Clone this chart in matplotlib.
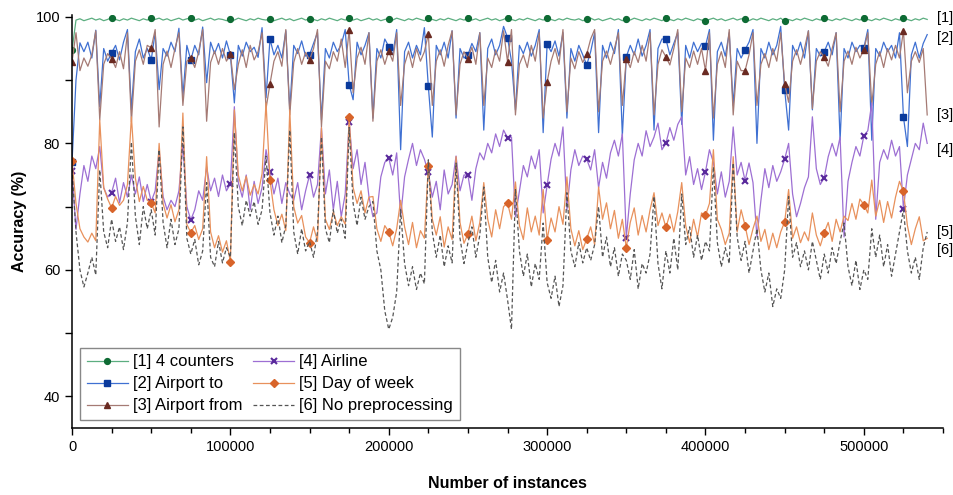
import matplotlib
matplotlib.use("Agg")
import matplotlib.pyplot as plt
import numpy as np

plt.rcParams['font.family'] = ['Liberation Sans', 'DejaVu Sans']

# one sample every 2500 instances, a marker every 25000
step = 2500

four_counters = [
    94.7, 99.5, 99.7, 99.4, 99.6, 99.8, 99.5, 99.7, 99.4, 99.6,
    99.9, 99.6, 99.4, 99.7, 99.5, 99.8, 99.6, 99.4, 99.7, 99.5,
    99.9, 99.6, 99.8, 99.5, 99.7, 99.4, 99.6, 99.8, 99.5, 99.7,
    99.8, 99.5, 99.7, 99.4, 99.6, 99.8, 99.5, 99.7, 99.6, 99.4,
    99.7, 99.5, 99.8, 99.6, 99.4, 99.7, 99.5, 99.8, 99.6, 99.5,
    99.7, 99.4, 99.6, 99.8, 99.5, 99.7, 99.4, 99.6, 99.8, 99.5,
    99.7, 99.6, 99.4, 99.7, 99.5, 99.8, 99.6, 99.4, 99.7, 99.5,
    99.8, 99.5, 99.7, 99.4, 99.6, 99.8, 99.5, 99.7, 99.4, 99.6,
    99.7, 99.5, 99.8, 99.6, 99.4, 99.7, 99.5, 99.8, 99.6, 99.4,
    99.8, 99.6, 99.4, 99.7, 99.5, 99.8, 99.6, 99.4, 99.7, 99.5,
    99.8, 99.5, 99.7, 99.4, 99.6, 99.8, 99.5, 99.7, 99.4, 99.6,
    99.9, 99.6, 99.4, 99.7, 99.5, 99.8, 99.6, 99.4, 99.7, 99.5,
    99.8, 99.6, 99.4, 99.7, 99.5, 99.8, 99.6, 99.5, 99.7, 99.4,
    99.6, 99.8, 99.5, 99.7, 99.4, 99.6, 99.8, 99.5, 99.7, 99.4,
    99.7, 99.5, 99.8, 99.6, 99.4, 99.7, 99.5, 99.8, 99.6, 99.4,
    99.8, 99.6, 99.4, 99.7, 99.5, 99.8, 99.6, 99.4, 99.7, 99.5,
    99.4, 99.6, 99.8, 99.5, 99.7, 99.4, 99.6, 99.8, 99.5, 99.7,
    99.6, 99.4, 99.7, 99.5, 99.8, 99.6, 99.4, 99.7, 99.5, 99.8,
    99.3, 99.6, 99.4, 99.7, 99.5, 99.8, 99.6, 99.4, 99.7, 99.5,
    99.9, 99.6, 99.4, 99.7, 99.5, 99.8, 99.6, 99.4, 99.7, 99.5,
    99.9, 99.6, 99.4, 99.7, 99.5, 99.8, 99.6, 99.4, 99.7, 99.5,
    99.9, 99.6, 99.4, 99.7, 99.5, 99.8, 99.6,
]

airport_to = [
    77.0, 90.0, 95.9, 94.5, 96.0, 93.5, 97.9, 85.8, 95.0, 93.0,
    94.3, 95.5, 93.2, 96.0, 98.0, 85.3, 94.5, 96.5, 93.5, 95.0,
    93.2, 97.5, 88.5, 95.0, 93.8, 96.0, 94.5, 98.2, 87.4, 95.5,
    93.2, 95.5, 94.0, 98.4, 89.6, 96.0, 94.2, 95.8, 93.5, 96.2,
    94.0, 86.4, 95.5, 93.8, 96.0, 94.5, 95.2, 93.6, 98.3, 87.2,
    96.5, 94.0, 95.5, 93.5, 97.8, 85.3, 95.5, 94.2, 96.2, 93.8,
    94.0, 95.8, 97.5, 83.7, 95.0, 93.5, 96.0, 94.5, 95.6, 98.0,
    89.3, 86.9, 96.0, 94.0, 95.5, 97.5, 84.0, 95.0, 93.5, 96.5,
    95.3, 94.0, 98.0, 79.0, 94.5, 96.0, 93.5, 95.5, 94.0, 98.3,
    89.0, 81.0, 95.5, 94.0, 96.0, 93.5, 97.8, 84.0, 95.0, 93.5,
    94.0, 95.8, 94.5, 97.5, 82.1, 95.0, 96.5, 94.0, 95.5, 98.5,
    96.7, 93.0, 85.3, 95.5, 94.2, 96.0, 93.8, 95.5, 98.0, 81.7,
    95.7, 94.5, 96.2, 93.8, 97.5, 84.0, 95.0, 93.0, 95.5, 94.0,
    92.4, 94.5, 97.5, 81.7, 95.5, 93.5, 96.0, 94.2, 98.0, 81.2,
    93.7, 95.5, 94.0, 96.5, 93.8, 95.5, 98.0, 82.1, 95.0, 96.5,
    96.5, 94.0, 95.8, 97.5, 83.0, 95.5, 93.5, 96.0, 94.5, 95.8,
    95.4, 98.0, 80.5, 94.5, 96.0, 93.8, 97.5, 86.0, 95.0, 93.5,
    94.8, 96.0, 98.0, 80.0, 95.0, 93.5, 96.0, 94.0, 95.5, 98.5,
    88.5, 82.1, 95.5, 94.0, 96.0, 93.5, 97.8, 85.3, 95.0, 93.8,
    94.5, 96.0, 94.0, 97.5, 80.5, 95.0, 93.5, 96.0, 94.5, 95.5,
    95.1, 98.0, 80.5, 95.0, 93.8, 96.0, 94.5, 95.5, 93.5, 97.5,
    84.2, 79.5, 94.0, 96.0, 93.5, 95.8, 97.2,
]

airport_from = [
    92.9, 97.5, 91.5, 93.5, 92.2, 94.0, 97.8, 83.7, 92.5, 94.2,
    93.4, 92.0, 94.5, 91.8, 97.5, 83.4, 93.0, 94.8, 92.5, 95.5,
    95.1, 98.0, 82.6, 92.5, 94.6, 92.0, 95.0, 97.5, 86.0, 93.0,
    93.5, 92.0, 94.5, 98.0, 83.5, 92.8, 94.6, 92.5, 95.0, 93.0,
    94.1, 88.5, 92.5, 94.8, 92.0, 95.5, 93.2, 94.5, 97.5, 85.5,
    89.4, 93.0, 94.5, 92.2, 98.0, 84.5, 92.8, 95.0, 92.5, 94.4,
    93.2, 95.0, 98.0, 82.6, 93.0, 91.8, 94.5, 93.0, 96.5, 92.0,
    97.9, 88.0, 93.5, 95.2, 92.5, 97.5, 83.5, 93.0, 94.8, 92.5,
    94.6, 93.0, 97.5, 86.0, 92.5, 94.6, 92.0, 95.0, 93.0, 94.5,
    97.3, 86.0, 93.0, 94.8, 92.2, 95.5, 97.8, 84.5, 92.5, 94.5,
    93.4, 95.2, 92.5, 97.5, 86.0, 93.5, 92.0, 94.8, 93.0, 97.8,
    92.9, 98.0, 84.5, 92.5, 94.0, 92.0, 95.5, 93.0, 97.5, 84.0,
    89.7, 93.0, 95.0, 92.5, 98.0, 85.0, 93.5, 91.8, 94.5, 92.8,
    94.1, 96.5, 98.0, 85.0, 93.0, 94.6, 92.5, 95.0, 97.5, 86.0,
    93.4, 92.0, 94.5, 92.8, 95.5, 93.0, 97.5, 84.5, 92.5, 94.8,
    93.7, 92.4, 95.0, 98.0, 85.0, 93.5, 92.0, 94.6, 92.5, 95.0,
    91.5, 97.5, 84.0, 92.5, 94.5, 92.0, 98.0, 84.5, 93.0, 91.5,
    91.5, 94.0, 97.5, 86.0, 92.5, 94.2, 92.0, 95.0, 93.0, 97.5,
    89.4, 86.5, 93.0, 94.8, 92.5, 95.0, 97.8, 85.5, 93.0, 94.5,
    93.6, 92.2, 95.0, 97.5, 85.0, 93.0, 94.6, 92.5, 95.2, 93.5,
    94.8, 97.5, 86.0, 92.5, 94.5, 92.0, 95.0, 93.2, 95.5, 93.5,
    97.8, 88.0, 93.0, 94.5, 92.8, 95.0, 84.5,
]

airline = [
    75.6, 66.4, 72.0, 76.5, 74.0, 78.0, 76.0, 79.5, 73.0, 71.5,
    72.2, 74.5, 70.6, 73.8, 71.5, 75.0, 72.0, 74.7, 70.8, 73.5,
    70.8, 72.5, 79.0, 71.6, 69.5, 71.0, 70.0, 72.5, 80.0, 70.0,
    67.9, 69.5, 72.5, 71.0, 76.3, 72.5, 74.5, 71.6, 75.0, 72.5,
    73.6, 85.8, 73.8, 71.5, 75.0, 69.5, 74.0, 70.5, 73.0, 79.0,
    75.5, 72.0, 74.5, 70.5, 73.8, 72.0, 71.0, 73.8, 69.5, 72.5,
    75.0, 71.5, 73.5, 82.5, 72.0, 75.8, 69.5, 74.0, 68.4, 72.0,
    83.4, 76.0, 79.0, 73.5, 77.0, 71.6, 68.4, 69.0, 74.7, 77.0,
    77.7, 75.0, 78.5, 68.4, 74.7, 77.5, 80.0, 76.5, 79.0, 77.5,
    75.4, 71.5, 74.0, 69.5, 75.8, 72.0, 73.5, 78.0, 72.5, 75.0,
    75.0, 71.0, 76.0, 78.5, 77.4, 80.0, 78.5, 81.5, 79.5, 82.1,
    80.9, 81.0, 68.4, 72.5, 76.5, 74.7, 78.0, 76.0, 79.0, 69.0,
    73.4, 77.5, 80.0, 78.0, 82.6, 69.5, 75.8, 79.0, 76.5, 78.0,
    77.5, 75.8, 79.0, 73.0, 77.0, 74.5, 78.5, 80.5, 78.0, 81.5,
    65.1, 72.0, 77.4, 80.0, 78.0, 82.0, 79.5, 81.0, 83.2, 79.0,
    80.0, 82.5, 80.5, 83.0, 84.2, 75.0, 77.9, 73.5, 76.0, 72.7,
    75.5, 79.0, 77.0, 72.0, 75.5, 71.5, 74.0, 82.6, 75.0, 77.0,
    74.1, 76.9, 73.8, 65.2, 71.0, 76.0, 73.0, 76.5, 74.0, 75.5,
    77.5, 80.0, 72.0, 68.4, 70.5, 73.0, 74.7, 84.2, 76.0, 73.5,
    74.6, 77.9, 80.0, 78.0, 81.0, 65.2, 74.0, 77.0, 79.5, 78.0,
    81.2, 82.0, 86.4, 68.0, 77.0, 79.0, 77.5, 80.5, 78.0, 79.5,
    69.7, 75.0, 77.5, 80.0, 79.0, 83.2, 80.0,
]

day_of_week = [
    77.2, 70.5, 66.5, 65.2, 64.4, 65.8, 64.6, 83.7, 73.0, 71.2,
    69.8, 71.6, 70.2, 71.0, 73.5, 84.2, 74.5, 70.8, 73.2, 71.0,
    70.6, 69.0, 80.0, 70.5, 68.2, 70.3, 67.6, 69.5, 84.8, 67.2,
    65.9, 67.0, 64.8, 66.5, 77.9, 66.0, 63.5, 65.4, 62.8, 64.6,
    61.3, 85.3, 75.0, 72.5, 74.8, 71.8, 73.5, 72.0, 75.2, 86.4,
    74.2, 69.5, 67.0, 68.8, 66.2, 85.3, 70.0, 67.4, 68.6, 65.2,
    64.3, 66.8, 64.5, 82.5, 68.0, 66.4, 69.2, 67.0, 68.4, 67.2,
    84.2, 73.0, 70.5, 72.5, 69.0, 71.5, 71.6, 66.5, 64.5, 67.0,
    66.0, 63.8, 66.5, 71.0, 66.8, 64.0, 67.5, 63.5, 66.2, 65.0,
    76.5, 68.0, 65.5, 68.4, 63.6, 66.8, 64.8, 77.9, 67.5, 64.2,
    65.7, 68.5, 64.6, 67.5, 73.8, 68.0, 65.2, 69.5, 66.5, 70.0,
    70.6, 68.0, 73.9, 67.0, 64.8, 69.8, 66.0, 68.5, 65.5, 72.7,
    64.8, 68.2, 66.0, 70.0, 67.2, 74.7, 66.5, 63.8, 66.2, 63.2,
    64.9, 66.8, 64.0, 73.1, 68.0, 70.6, 66.5, 69.4, 65.0, 68.0,
    63.5, 67.5, 69.8, 65.5, 68.6, 66.0, 69.5, 72.2, 67.0, 69.0,
    66.7, 68.8, 66.0, 69.2, 73.8, 67.0, 64.3, 68.0, 65.2, 69.0,
    68.6, 70.5, 79.0, 68.0, 66.4, 64.0, 65.8, 77.9, 66.0, 69.5,
    67.0, 64.0, 66.5, 68.5, 64.5, 66.4, 63.2, 65.8, 63.5, 66.0,
    67.6, 72.7, 65.0, 66.8, 64.3, 66.0, 64.6, 69.0, 65.5, 63.8,
    65.9, 67.5, 64.5, 68.0, 66.0, 68.5, 67.8, 70.5, 68.0, 71.2,
    70.3, 69.0, 74.2, 68.5, 71.0, 67.5, 70.8, 68.2, 71.5, 74.0,
    72.4, 67.0, 64.0, 66.5, 68.4, 64.6, 65.0,
]

no_preprocessing = [
    76.0, 66.0, 60.0, 57.3, 59.5, 62.0, 59.2, 75.8, 66.0, 63.5,
    68.0, 64.5, 66.8, 63.2, 67.5, 80.2, 68.5, 64.0, 70.0, 66.5,
    69.5, 65.5, 79.0, 67.5, 63.5, 68.0, 64.0, 66.5, 82.6, 65.0,
    62.5, 64.8, 60.8, 63.0, 73.8, 62.0, 60.5, 64.5, 61.1, 63.5,
    62.0, 81.7, 70.0, 67.0, 71.0, 68.5, 70.8, 67.2, 69.5, 78.0,
    69.0, 65.5, 68.5, 64.3, 67.0, 82.1, 66.0, 62.5, 66.5, 63.0,
    64.5, 62.0, 66.0, 81.0, 66.5, 64.3, 69.5, 65.8, 68.0, 65.0,
    82.5, 70.5, 67.0, 71.5, 68.0, 70.0, 70.8, 63.0, 60.0, 53.5,
    50.6, 52.5, 56.5, 69.5, 61.0, 57.5, 60.5, 56.9, 59.5, 57.8,
    77.4, 66.0, 62.0, 65.5, 60.5, 63.8, 61.1, 76.9, 65.0, 61.0,
    64.3, 66.8, 62.0, 65.5, 73.1, 62.0, 58.0, 61.5, 56.5, 59.5,
    55.3, 50.6, 72.7, 63.0, 59.0, 62.5, 57.3, 61.0, 58.5, 67.4,
    58.0, 55.5, 59.0, 54.2, 57.5, 72.2, 63.0, 60.5, 64.3, 61.1,
    63.5, 61.5, 64.0, 70.0, 62.0, 65.2, 60.5, 63.5, 59.0, 62.5,
    61.5, 58.5, 63.2, 57.0, 61.0, 59.5, 62.5, 71.6, 61.0, 57.0,
    63.0, 59.5, 65.0, 60.0, 72.0, 64.0, 66.8, 62.0, 65.5, 61.5,
    64.5, 63.0, 76.3, 64.3, 60.5, 63.5, 61.0, 76.9, 65.2, 61.5,
    64.5, 59.5, 63.0, 66.5, 60.0, 56.5, 59.5, 54.2, 57.0, 55.5,
    60.0, 71.6, 62.0, 64.3, 60.5, 63.0, 60.0, 64.5, 61.5, 58.5,
    62.5, 59.5, 63.5, 61.0, 64.5, 67.4, 60.5, 57.5, 61.5, 56.9,
    60.0, 58.5, 66.5, 62.0, 65.5, 60.5, 64.0, 59.0, 62.5, 66.0,
    69.5, 63.0, 59.5, 62.0, 58.5, 63.5, 66.0,
]

labels = ['[1] 4 counters', '[2] Airport to', '[3] Airport from',
          '[4] Airline', '[5] Day of week', '[6] No preprocessing']
end_tags = ['[1]', '[2]', '[3]', '[4]', '[5]', '[6]']
end_tag_y = [99.8, 96.7, 84.5, 79.0, 66.0, 63.2]


def make_chart():
    fig = plt.figure(figsize=(9.54, 4.95), dpi=100)
    ax = fig.add_axes([0.0755, 0.1354, 0.913, 0.8343])

    series = [four_counters, airport_to, airport_from, airline,
              day_of_week, no_preprocessing]
    styles = [
        dict(color='#5cae80', marker='o', mfc='#0e6b34', mec='#0e6b34', ms=4.2),
        dict(color='#3f70d2', marker='s', mfc='#0a3a9c', mec='#0a3a9c', ms=4.0),
        dict(color='#a57a74', marker='^', mfc='#6a2a22', mec='#6a2a22', ms=5.0),
        dict(color='#9d6fd3', marker='x', mfc='#5a2a9c', mec='#5a2a9c', ms=5.0, mew=1.5),
        dict(color='#e8915c', marker='D', mfc='#d8642a', mec='#d8642a', ms=3.6),
        dict(color='#555555', marker=None, ls=(0, (3, 2))),
    ]

    for vals, lab, st in zip(series, labels, styles):
        vals = np.asarray(vals)
        x = np.arange(len(vals)) * step
        ax.plot(x, vals, lw=0.9, markevery=10, label=lab, **st)

    ax.set_xlim(0, 550000)
    ax.set_ylim(35, 100.3)
    ax.set_xticks(np.arange(0, 500001, 100000))
    ax.set_xticks(np.arange(0, 550001, 25000), minor=True)
    ax.set_yticks([40, 60, 80, 100])
    ax.set_yticks([50, 70, 90], minor=True)
    ax.tick_params(which='major', length=5, width=1, labelsize=10.5, direction='out')
    ax.tick_params(which='minor', length=3.5, width=1, direction='out')
    ax.tick_params(axis='y', which='minor', length=5)

    for side in ['top', 'right']:
        ax.spines[side].set_visible(False)
    for side in ['left', 'bottom']:
        ax.spines[side].set_linewidth(1.1)

    ax.set_xlabel('Number of instances', fontsize=11.5, fontweight='bold', labelpad=16)
    ax.set_ylabel('Accuracy (%)', fontsize=11.5, fontweight='bold', labelpad=6)

    for tag, ty in zip(end_tags, end_tag_y):
        ax.text(546500, ty, tag, fontsize=10.5, ha='left', va='center', clip_on=False)

    leg = ax.legend(loc='lower left', bbox_to_anchor=(0.009, 0.019), borderaxespad=0,
                    ncol=2, fontsize=12, fancybox=False, edgecolor='#888888',
                    framealpha=1, handlelength=2.5, columnspacing=0.6,
                    labelspacing=0.42, handletextpad=0.3, borderpad=0.4)
    leg.get_frame().set_linewidth(1.0)

    fig.savefig('out.png', dpi=100)


if __name__ == "__main__":
    make_chart()
